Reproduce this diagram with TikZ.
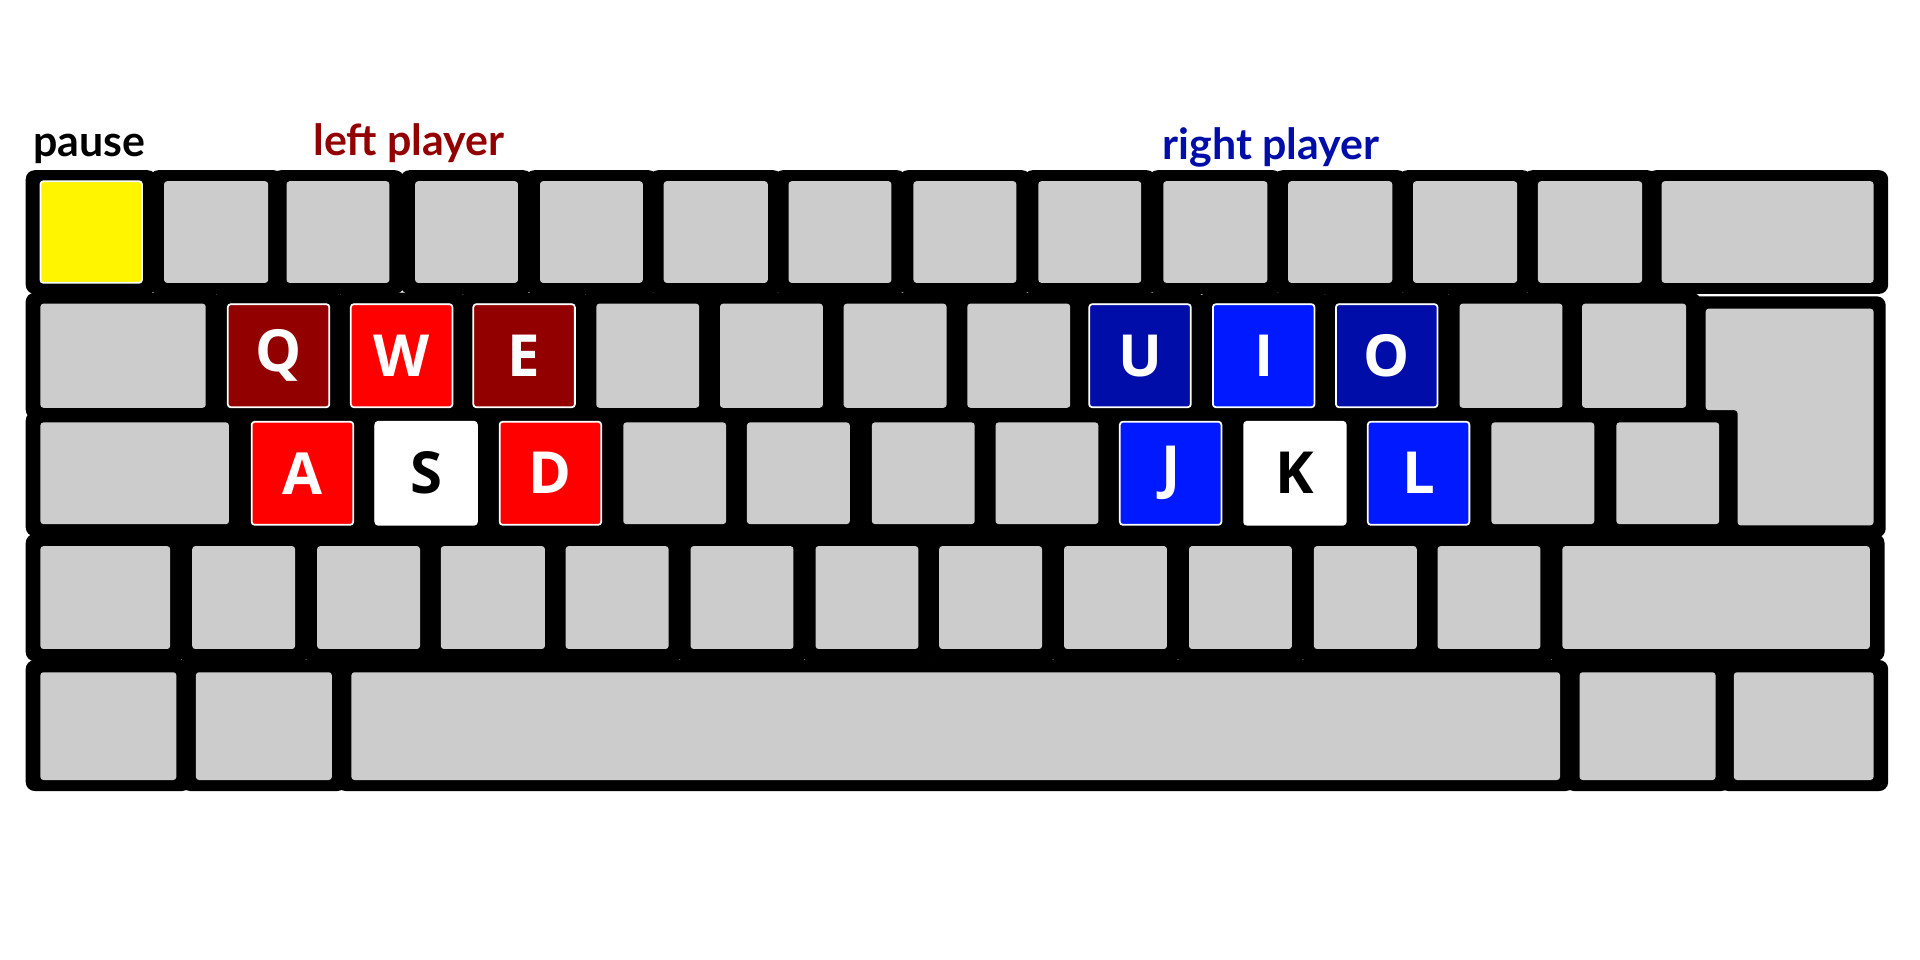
\documentclass[tikz,border=0pt]{standalone}
\usepackage{fontspec}
\setmainfont{Lato}
\newfontfamily\keyfont{Open Sans}
\definecolor{keygray}{HTML}{CCCCCC}
\definecolor{pauseyel}{HTML}{FFF500}
\definecolor{darkred}{HTML}{930000}
\definecolor{brightred}{HTML}{FF0000}
\definecolor{darkblue}{HTML}{000DA8}
\definecolor{brightblue}{HTML}{0019FF}
\begin{document}
\begin{tikzpicture}[x=0.012245cm, y=-0.012245cm, line join=round,
  rim/.style={fill=black, rounded corners=0.09cm},
  keycap/.style={fill=keygray, rounded corners=0.03cm},
  hit/.style={draw=white, line width=0.5pt, rounded corners=0.03cm, minimum width=1.015cm, minimum height=1.03cm, inner sep=0pt, text=white, font=\keyfont\fontsize{16.5}{17}\selectfont\bfseries},
  tag/.style={font=\fontsize{12.2}{14}\selectfont\bfseries, anchor=base}]
\useasboundingbox (0,0) rectangle (1568,784);
% row 1
\foreach \a/\b in {33/116,134/219,234/318,339/423,441/525,542/627,644/728,746/830,848/932,950/1035,1052/1137,1154/1239,1256/1341,1357/1530}
  {\fill[rim] (\a-12,139) rectangle (\b+12,240); \fill[keycap] (\a,148) rectangle (\b,231);}
% row 2
\foreach \a/\b in {33/168,186/269,287/369,387/469,487/571,588/672,689/773,790/874,890/972,991/1073,1091/1174,1192/1276,1292/1377}
  {\fill[rim] (\a-12,239) rectangle (\b+12,342); \fill[keycap] (\a,248) rectangle (\b,333);}
% row 3
\foreach \a/\b in {33/187,205/289,306/390,408/491,509/593,610/694,712/796,813/897,915/997,1016/1099,1117/1200,1218/1302,1320/1404}
  {\fill[rim] (\a-12,336) rectangle (\b+12,438); \fill[keycap] (\a,345) rectangle (\b,428);}
% row 4
\foreach \a/\b in {33/139,157/241,259/343,360/445,462/546,564/648,666/750,767/851,869/953,971/1055,1073/1157,1174/1258,1276/1527}
  {\fill[rim] (\a-12,436) rectangle (\b+12,540); \fill[keycap] (\a,446) rectangle (\b,530);}
% row 5
\foreach \a/\b in {33/144,160/271,287/1274,1290/1401,1416/1530}
  {\fill[rim] (\a-12,539) rectangle (\b+12,646); \fill[keycap] (\a,549) rectangle (\b,637);}
% enter
\fill[rim] (1381,242) -- (1540,242) -- (1540,439) -- (1407,439) -- (1407,344) -- (1381,344) -- cycle;
\fill[keycap] (1393,252) -- (1530,252) -- (1530,429) -- (1419,429) -- (1419,335) -- (1393,335) -- cycle;

\node[hit, fill=pauseyel, minimum height=1.015cm] (esc) at (74.5,189.5) {};
\node[hit, fill=darkred] (Q) at (227.5,290.5) {Q};
\node[hit, fill=brightred] (W) at (328,290.5) {W};
\node[hit, fill=darkred] (E) at (428,290.5) {E};
\node[hit, fill=brightred] (A) at (247,386.5) {A};
\node[hit, fill=white, text=black] (S) at (348,386.5) {S};
\node[hit, fill=brightred] (D) at (449.5,386.5) {D};
\node[hit, fill=darkblue] (U) at (931,290.5) {U};
\node[hit, fill=brightblue] (I) at (1032,290.5) {I};
\node[hit, fill=darkblue] (O) at (1132.5,290.5) {O};
\node[hit, fill=brightblue] (J) at (956,386.5) {J};
\node[hit, fill=white, text=black] (K) at (1057.5,386.5) {K};
\node[hit, fill=brightblue] (L) at (1158.5,386.5) {L};

\node[tag] (pause) at (73,128) {pause};
\node[tag, text=darkred] (left) at (334,127) {left player};
\node[tag, text=darkblue] (right) at (1038,130) {right player};
\end{tikzpicture}
\end{document}
